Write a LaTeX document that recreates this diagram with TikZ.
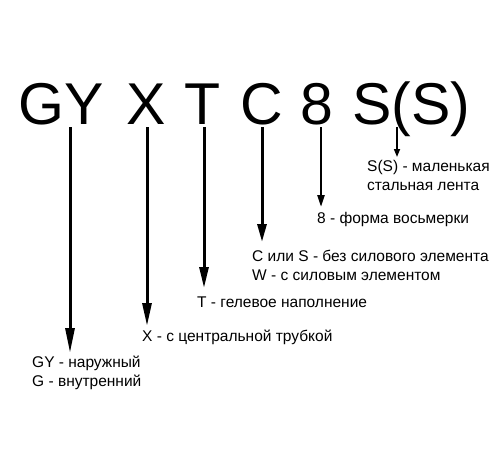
\documentclass[tikz,border=0pt]{standalone}
\usepackage{fontspec}
\setmainfont{Liberation Sans}
\usetikzlibrary{arrows.meta}
\begin{document}
\begin{tikzpicture}[x=1pt,y=-1pt,
  big/.style={font=\fontsize{59}{59}\selectfont, inner sep=0pt, anchor=base west},
  lbl/.style={font=\fontsize{15.5}{19}\selectfont, inner sep=0pt, anchor=north west, align=left},
  arr/.style={line width=3pt, -{Triangle[length=#1pt,width=9pt]}},
  arr/.default=20]
\useasboundingbox (0,0) rectangle (500,450);
% big code letters
\node[big] (gy) at (18,124) {GY};
\node[big] (x) at (126,124) {X};
\node[big] (t) at (184,124) {T};
\node[big] (c) at (240,124) {C};
\node[big] (e) at (300,124) {8};
\node[big] (s) at (352,124) {S(S)};
% arrow start points
\coordinate (a1) at (70,127);
\coordinate (a2) at (147,127);
\coordinate (a3) at (204,127);
\coordinate (a4) at (262,127);
\coordinate (a5) at (321,127);
\coordinate (a6) at (397,127);
% labels
\node[lbl] (l1) at (32,356) {GY - наружный\\G - внутренний};
\node[lbl] (l2) at (142,330) {X - с центральной трубкой};
\node[lbl] (l3) at (197,297) {T - гелевое наполнение};
\node[lbl] (l4) at (252,250) {С или S - без силового элемента\\W - с силовым элементом};
\node[lbl] (l5) at (317,212) {8 - форма восьмерки};
\node[lbl] (l6) at (367,160) {S(S) - маленькая\\стальная лента};
% arrows
\draw[arr=25] (a1) -- (a1 |- 0,353);
\draw[arr=23] (a2) -- (a2 |- 0,326);
\draw[arr=21] (a3) -- (a3 |- 0,288);
\draw[arr=18] (a4) -- (a4 |- 0,242);
\draw[line width=2.3pt, -{Triangle[length=12pt,width=7pt]}] (a5) -- (a5 |- 0,207);
\draw[line width=1.6pt, -{Triangle[length=8pt,width=6pt]}] (a6) -- (a6 |- 0,157);
\end{tikzpicture}
\end{document}
